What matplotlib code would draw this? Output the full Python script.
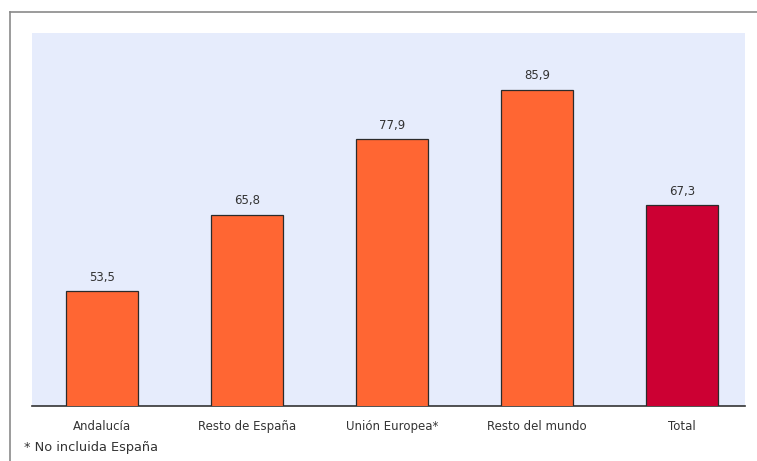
import matplotlib.pyplot as plt
from matplotlib.lines import Line2D

categorias = ["Andalucía", "Resto de España", "Unión Europea*", "Resto del mundo", "Total"]
valores = [53.5, 65.8, 77.9, 85.9, 67.3]
etiquetas = ["53,5", "65,8", "77,9", "85,9", "67,3"]
colores = ["#FF6633", "#FF6633", "#FF6633", "#FF6633", "#CC0033"]
nota = "* No incluida España"

fig = plt.figure(figsize=(7.57, 4.61), dpi=100)
fig.patch.set_facecolor("white")

# marco exterior (solo arriba e izquierda)
fig.add_artist(Line2D([10 / 757, 10 / 757], [0, 1 - 12 / 461], color="#8a8a8a", lw=1.2))
fig.add_artist(Line2D([10 / 757, 1], [1 - 12 / 461, 1 - 12 / 461], color="#8a8a8a", lw=1.2))

ax = fig.add_axes([32 / 757, 55 / 461, 713 / 757, 373 / 461])
ax.set_facecolor("#E6ECFC")

x = list(range(len(categorias)))
ax.bar(x, valores, width=0.5, color=colores, edgecolor="#2b2b2b", linewidth=0.9, zorder=3)
for xi, v, t in zip(x, valores, etiquetas):
    ax.text(xi, v + 1.2, t, ha="center", va="bottom", fontsize=8.5, color="#333333")

ax.set_xlim(-0.483, 4.434)
ax.set_ylim(35, 95)
ax.set_yticks([])
ax.set_xticks(x)
ax.set_xticklabels(categorias, fontsize=8.5, color="#333333")
ax.tick_params(axis="x", length=0, pad=10)
for s in ["top", "right", "left"]:
    ax.spines[s].set_visible(False)
ax.spines["bottom"].set_color("#333333")
ax.spines["bottom"].set_linewidth(1.2)

fig.text(24 / 757, 1 - 447 / 461, nota, fontsize=9.3, color="#333333", va="center", ha="left")

fig.savefig("out.png", dpi=100)
